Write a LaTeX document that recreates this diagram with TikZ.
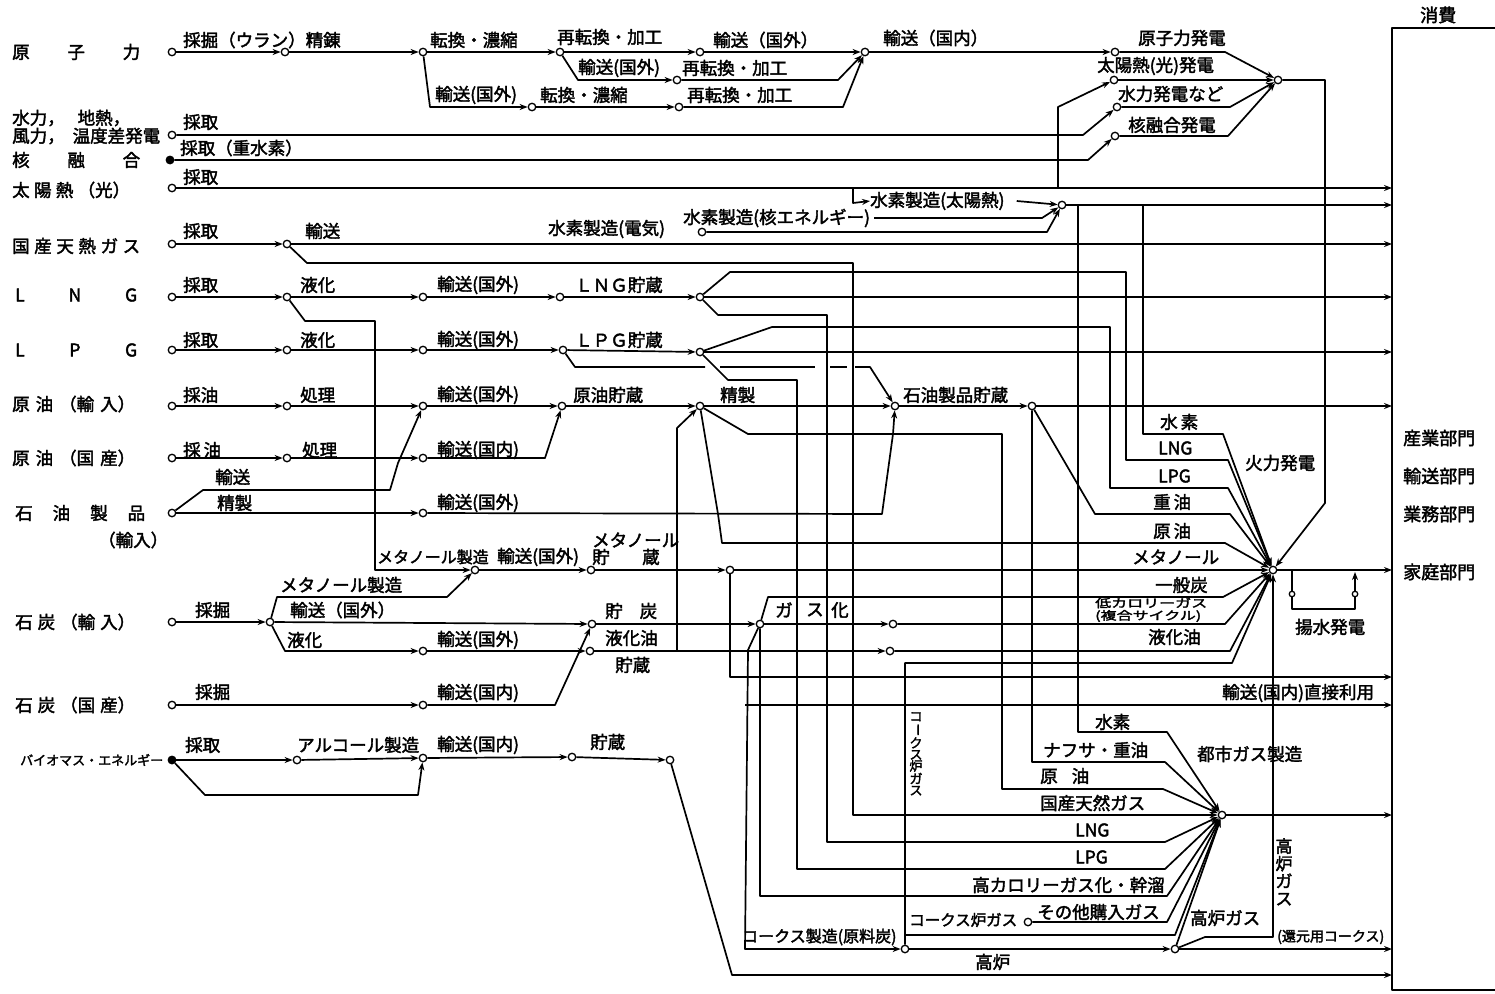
\documentclass[tikz,border=0pt]{standalone}
\usepackage{fontspec}
\setmainfont{Noto Sans CJK JP}[FakeBold=2.2]
\usetikzlibrary{arrows.meta}
\newcommand{\mylbl}[4]{\node[lb] (#1) at (#2,#3) {#4};}
\begin{document}
\begin{tikzpicture}[x=1pt,y=-1pt,
 ln/.style={line width=1.7pt, line join=round},
 ar/.style={ln, -{Stealth[length=8pt,width=6pt]}},
 nd/.style={circle, draw, fill=white, line width=1.3pt, inner sep=0pt, minimum size=7.5pt},
 fnd/.style={nd, fill=black},
 lb/.style={anchor=west, inner sep=0pt, font=\fontsize{17.5}{19}\selectfont},
 sm/.style={anchor=west, inner sep=0pt, font=\fontsize{16}{13}\selectfont},
 vt/.style={anchor=north, inner sep=0pt, align=center}]
\useasboundingbox (0,0) rectangle (1495,993);
% ---------- nodes ----------
\node[nd] (n0) at (172,52) {}; \node[nd] (n1) at (285,52) {}; \node[nd] (n2) at (423,52) {};
\node[nd] (n3) at (560,52) {}; \node[nd] (n4) at (700,52) {}; \node[nd] (n5) at (865,52) {};
\node[nd] (n6) at (1115,52) {}; \node[nd] (E) at (1278,80) {};
\node[nd] (n7) at (532,107) {}; \node[nd] (n8) at (679,107) {}; \node[nd] (n9) at (677,80) {};
\node[nd] (s1) at (1114,80) {}; \node[nd] (s2) at (1117,107) {}; \node[nd] (s3) at (1115,136) {};
\node[nd] (h0) at (172,135) {}; \node[fnd] (f0) at (170,160) {}; \node[nd] (t0) at (172,188) {};
\node[nd] (hy) at (1062,205) {}; \node[nd] (he) at (702,232) {};
\node[nd] (g0) at (172,244) {}; \node[nd] (g1) at (287,244) {};
\node[nd] (l0) at (172,297) {}; \node[nd] (l1) at (287,297) {}; \node[nd] (l2) at (423,297) {};
\node[nd] (l3) at (560,297) {}; \node[nd] (l4) at (700,297) {};
\node[nd] (p0) at (172,350) {}; \node[nd] (p1) at (287,350) {}; \node[nd] (p2) at (423,350) {};
\node[nd] (p3) at (563,350) {}; \node[nd] (p4) at (700,352) {};
\node[nd] (c0) at (172,406) {}; \node[nd] (c1) at (287,406) {}; \node[nd] (c2) at (423,406) {};
\node[nd] (c3) at (562,406) {}; \node[nd] (R) at (700,406) {}; \node[nd] (o3) at (895,406) {};
\node[nd] (o4) at (1032,406) {};
\node[nd] (d0) at (172,458) {}; \node[nd] (d1) at (287,458) {}; \node[nd] (d2) at (423,458) {};
\node[nd] (q0) at (172,513) {}; \node[nd] (q1) at (423,513) {};
\node[nd] (m1) at (475,570) {}; \node[nd] (m2) at (591,570) {}; \node[nd] (m3) at (730,570) {};
\node[nd] (P) at (1273,570) {};
\node[nd] (k0) at (172,622) {}; \node[nd] (k1) at (270,622) {}; \node[nd] (k2) at (592,624) {};
\node[nd] (k3) at (423,651) {}; \node[nd] (k4) at (590,651) {}; \node[nd] (k5) at (760,624) {};
\node[nd] (k6) at (890,651) {}; \node[nd] (k7) at (893,624) {};
\node[nd] (j0) at (172,705) {}; \node[nd] (j1) at (423,705) {};
\node[nd] (G) at (1222,815) {}; \node[nd] (K) at (905,949) {}; \node[nd] (B) at (1175,949) {};
\node[nd] (oG) at (1028,922) {};
\node[fnd] (b0) at (172,760) {}; \node[nd] (b1) at (297,760) {}; \node[nd] (b2) at (423,758) {};
\node[nd] (b3) at (572,757) {}; \node[nd] (b4) at (670,760) {};
\node[nd,minimum size=5.5pt] (pw1) at (1292,594) {}; \node[nd,minimum size=5.5pt] (pw2) at (1355,594) {};
\foreach \yy in {188,205,244,297,352,406,570,677,705,815,949,975}{\coordinate (c\yy) at (1392,\yy);}
% hydrogen label nodes
\node[lb] (HS) at (870,201) {水素製造(太陽熱)};
\node[lb] (HN) at (683,218) {水素製造(核エネルギー)};
% ---------- consumption box ----------
\draw[ln] (1495,28) -- (1392,28) -- (1392,990) -- (1495,990);
% ---------- nuclear ----------
\draw[ar] (n0) -- (n1); \draw[ar] (n1) -- (n2); \draw[ar] (n2) -- (n3);
\draw[ar] (n3) -- (n4); \draw[ar] (n4) -- (n5); \draw[ar] (n5) -- (n6);
\draw[ar] (n6) -- (1225,52) -- (E);
\draw[ar] (n2) -- (430,107) -- (n7); \draw[ar] (n7) -- (n8); \draw[ar] (n8) -- (843,107) -- (n5);
\draw[ar] (n3) -- (578,80) -- (n9); \draw[ar] (n9) -- (838,80) -- (n5);
% ---------- electricity ----------
\draw[ar] (s1) -- (E); \draw[ar] (s2) -- (1230,107) -- (E); \draw[ar] (s3) -- (1228,136) -- (E);
\draw[ar] (E) -- (1325,80) -- (1325,503) -- (P);
\draw[ar] (h0) -- (1083,135) -- (s2);
\draw[ar] (f0) -- (1088,160) -- (s3);
\draw[ar] (t0) -- (c188);
\draw[ar] (1058,188) -- (1058,107) -- (s1);
% ---------- hydrogen ----------
\draw[ar] (853,188) -- (853,203) -- (HS.west);
\draw[ar] ([xshift=12pt]HS.east) -- (hy);
\draw[ar] ([xshift=4pt]HN.east) -- (1042,218) -- (hy);
\draw[ar] (he) -- (1047,232) -- (hy);
\draw[ar] (hy) -- (c205);
\draw[ar] (1078,205) -- (1078,732) -- (1167,732) -- (G);
\draw[ar] (1143,205) -- (1143,434) -- (1223,434) -- (P);
% ---------- natural gas ----------
\draw[ar] (g0) -- (g1); \draw[ar] (g1) -- (c244);
\draw[ar] (g1) -- (307,263) -- (853,263) -- (853,815) -- (G);
% ---------- LNG ----------
\draw[ar] (l0) -- (l1); \draw[ar] (l1) -- (l2); \draw[ar] (l2) -- (l3); \draw[ar] (l3) -- (l4);
\draw[ar] (l4) -- (c297);
\draw[ar] (l4) -- (730,272) -- (1126,272) -- (1126,460) -- (1228,460) -- (P);
\draw[ar] (l4) -- (718,315) -- (827,315) -- (827,842) -- (1165,842) -- (G);
\draw[ar] (l1) -- (305,321) -- (375,321) -- (375,570) -- (m1);
% ---------- LPG ----------
\draw[ar] (p0) -- (p1); \draw[ar] (p1) -- (p2); \draw[ar] (p2) -- (p3); \draw[ar] (p3) -- (p4);
\draw[ar] (p4) -- (c352);
\draw[ar] (p4) -- (772,327) -- (1110,327) -- (1110,488) -- (1228,488) -- (P);
\draw[ar] (p4) -- (728,380) -- (797,380) -- (797,869) -- (1165,869) -- (G);
\draw[ln] (p3) -- (575,367) -- (705,367); \draw[ln] (720,367) -- (815,367); \draw[ln] (830,367) -- (847,367);
\draw[ar] (855,367) -- (870,367) -- (o3);
% ---------- crude oil ----------
\draw[ar] (c0) -- (c1); \draw[ar] (c1) -- (c2); \draw[ar] (c2) -- (c3); \draw[ar] (c3) -- (R);
\draw[ar] (R) -- (o3); \draw[ar] (o3) -- (o4); \draw[ar] (o4) -- (c406);
\draw[ar] (R) -- (748,434) -- (1002,434) -- (1002,789) -- (1163,789) -- (G);
\draw[ar] (R) -- (718,514) -- (722,543) -- (1225,543) -- (P);
\draw[ar] (o4) -- (1095,514) -- (1230,514) -- (P);
\draw[ar] (o4) -- (1032,762) -- (1165,762) -- (G);
\draw[ar] (d0) -- (d1); \draw[ar] (d1) -- (d2); \draw[ar] (d2) -- (545,458) -- (c3);
\draw[ar] (q0) -- (203,490) -- (390,490) -- (398,463) -- (c2);
\draw[ar] (q0) -- (q1);
\draw[ar] (q1) -- (882,514) -- (893,434) -- (o3);
% ---------- methanol ----------
\draw[ar] (m1) -- (m2); \draw[ar] (m2) -- (m3); \draw[ar] (m3) -- (P); \draw[ar] (P) -- (c570);
\draw[ar] (m3) -- (730,677) -- (c677);
\draw[ar] (k1) -- (277,597) -- (447,597) -- (m1);
% ---------- coal ----------
\draw[ar] (k0) -- (k1); \draw[ar] (k1) -- (k2); \draw[ar] (k1) -- (285,651) -- (k3); \draw[ar] (k3) -- (k4);
\draw[ar] (k4) -- (k6); \draw[ar] (k6) -- (1230,651) -- (P);
\draw[ar] (677,651) -- (677,428) -- (R);
\draw[ar] (k2) -- (k5); \draw[ar] (k5) -- (k7); \draw[ar] (k7) -- (1225,624) -- (P);
\draw[ar] (k5) -- (768,597) -- (1223,597) -- (P);
\draw[ar] (k5) -- (760,896) -- (1167,896) -- (G);
\draw[ar] (k5) -- (748,650) -- (745,949) -- (K);
\draw[ar] (745,705) -- (c705);
\draw[ar] (j0) -- (j1); \draw[ar] (j1) -- (555,705) -- (k2);
% ---------- coke / blast furnace ----------
\draw[ar] (K) -- (905,663) -- (1232,663) -- (P);
\draw[ar] (905,935) -- (1175,935) -- (G);
\draw[ar] (K) -- (B); \draw[ar] (B) -- (c949); \draw[ar] (B) -- (G);
\draw[ar] (B) -- (1205,937) -- (1273,937) -- (P);
\draw[ar] (oG) -- (1167,922) -- (G);
\draw[ar] (G) -- (c815);
% ---------- biomass ----------
\draw[ar] (b0) -- (b1); \draw[ar] (b1) -- (b2); \draw[ar] (b0) -- (205,795) -- (418,795) -- (b2);
\draw[ar] (b2) -- (b3); \draw[ar] (b3) -- (b4); \draw[ar] (b4) -- (732,975) -- (c975);
% ---------- pumped storage ----------
\draw[ln] (1292,570) -- (pw1); \draw[ln] (pw1) -- (1292,609) -- (1355,609) -- (pw2);
\draw[ar] (pw2) -- (1355,572);
% ---------- source labels ----------
\node[lb] (S1) at (12,52) {\makebox[128pt][s]{原\hfill 子\hfill 力}};
\node[lb] (S2a) at (12,118) {\makebox[118pt][s]{水力，\hfill 地熱，}};
\node[lb] (S2b) at (12,136) {\makebox[148pt][s]{風力，\hfill 温度差発電}};
\node[lb] (S3) at (12,160) {\makebox[128pt][s]{核\hfill 融\hfill 合}};
\node[lb] (S4) at (12,190) {\makebox[118pt][s]{太\hfill 陽\hfill 熱\hfill （光）}};
\node[lb] (S5) at (12,246) {\makebox[128pt][s]{国\hfill 産\hfill 天\hfill 熱\hfill ガ\hfill ス}};
\node[lb] (S6) at (15,295) {\makebox[122pt][s]{L\hfill N\hfill G}};
\node[lb] (S7) at (15,350) {\makebox[122pt][s]{L\hfill P\hfill G}};
\node[lb] (S8) at (12,404) {\makebox[123pt][s]{原\hfill 油\hfill （輸\hfill 入）}};
\node[lb] (S9) at (12,458) {\makebox[123pt][s]{原\hfill 油\hfill （国\hfill 産）}};
\node[lb] (S10) at (15,513) {\makebox[130pt][s]{石\hfill 油\hfill 製\hfill 品}};
\node[lb] (S10b) at (98,540) {（輸入）};
\node[lb] (S11) at (15,622) {\makebox[120pt][s]{石\hfill 炭\hfill （輸\hfill 入）}};
\node[lb] (S12) at (15,705) {\makebox[120pt][s]{石\hfill 炭\hfill （国\hfill 産）}};
\node[lb,font=\fontsize{13}{14}\selectfont] (S13) at (20,760) {バイオマス・エネルギー};
% ---------- process labels ----------
\mylbl{a1}{183}{40}{採掘（ウラン）精錬}
\mylbl{a2}{430}{40}{転換・濃縮}
\mylbl{a3}{557}{37}{再転換・加工}
\mylbl{a4}{713}{40}{輸送（国外）}
\mylbl{a5}{883}{38}{輸送（国内）}
\mylbl{a6}{578}{68}{輸送(国外)}
\mylbl{a7}{682}{68}{再転換・加工}
\mylbl{a8}{435}{95}{輸送(国外)}
\mylbl{a9}{540}{95}{転換・濃縮}
\mylbl{a10}{687}{95}{再転換・加工}
\mylbl{e1}{1138}{38}{原子力発電}
\mylbl{e2}{1097}{66}{太陽熱(光)発電}
\mylbl{e3}{1118}{94}{水力発電など}
\mylbl{e4}{1128}{125}{核融合発電}
\mylbl{r1}{183}{122}{採取}
\mylbl{r2}{180}{148}{採取（重水素）}
\mylbl{r3}{183}{177}{採取}
\mylbl{r4}{548}{229}{水素製造(電気)}
\mylbl{g2}{183}{231}{採取}
\mylbl{g3}{305}{231}{輸送}
\mylbl{l5}{183}{285}{採取}
\mylbl{l6}{300}{285}{液化}
\mylbl{l7}{437}{285}{輸送(国外)}
\mylbl{l8}{575}{285}{ＬＮＧ貯蔵}
\mylbl{p5}{183}{340}{採取}
\mylbl{p6}{300}{340}{液化}
\mylbl{p7}{437}{340}{輸送(国外)}
\mylbl{p8}{575}{340}{ＬＰＧ貯蔵}
\mylbl{c5}{183}{395}{採油}
\mylbl{c6}{300}{395}{処理}
\mylbl{c7}{437}{395}{輸送(国外)}
\mylbl{c8}{573}{395}{原油貯蔵}
\mylbl{c9}{720}{395}{精製}
\mylbl{c10}{903}{395}{石油製品貯蔵}
\mylbl{d5}{183}{450}{採\,油}
\mylbl{d6}{302}{450}{処理}
\mylbl{d7}{437}{450}{輸送(国内)}
\mylbl{q5}{215}{477}{輸送}
\mylbl{q6}{217}{503}{精製}
\mylbl{q7}{437}{503}{輸送(国外)}
\node[lb,font=\fontsize{16}{18}\selectfont] (m5) at (377,557) {メタノール製造};
\mylbl{m6}{497}{557}{輸送(国外)}
\mylbl{m7}{592}{540}{メタノール}
\mylbl{m8}{592}{557}{貯}
\mylbl{m9}{642}{557}{蔵}
\mylbl{k8}{195}{610}{採掘}
\mylbl{k9}{280}{585}{メタノール製造}
\mylbl{k10}{290}{610}{輸送（国外）}
\mylbl{k11}{287}{640}{液化}
\mylbl{k12}{437}{640}{輸送(国外)}
\mylbl{k13}{605}{611}{貯\hspace{17pt}炭}
\mylbl{k14}{605}{638}{液化油}
\mylbl{k15}{615}{665}{貯蔵}
\mylbl{k16}{775}{610}{ガ}
\mylbl{k17}{806}{610}{ス}
\mylbl{k18}{831}{610}{化}
\mylbl{j5}{195}{692}{採掘}
\mylbl{j6}{437}{693}{輸送(国内)}
\mylbl{b5}{185}{745}{採取}
\mylbl{b6}{297}{745}{アルコール製造}
\mylbl{b7}{437}{745}{輸送(国内)}
\mylbl{b8}{590}{742}{貯蔵}
% thermal inputs
\mylbl{f1}{1160}{422}{水\,素}
\mylbl{f2}{1158}{448}{LNG}
\mylbl{f3}{1158}{476}{LPG}
\mylbl{f4}{1153}{502}{重\,油}
\mylbl{f5}{1153}{531}{原\,油}
\mylbl{f6}{1132}{557}{メタノール}
\mylbl{f7}{1155}{585}{一般炭}
\node[sm] (f8) at (1095,603) {\scalebox{1}[0.72]{低カロリーガス}};
\node[sm] (f9) at (1095,616) {\scalebox{1}[0.72]{(複合サイクル)}};
\mylbl{f10}{1148}{637}{液化油}
\mylbl{f11}{1245}{463}{火力発電}
\mylbl{f12}{1295}{627}{揚水発電}
% city gas inputs
\mylbl{u1}{1095}{722}{水素}
\mylbl{u2}{1043}{750}{ナフサ・重油}
\mylbl{u3}{1040}{776}{原\hspace{14pt}油}
\mylbl{u4}{1040}{803}{国産天然ガス}
\mylbl{u5}{1075}{830}{LNG}
\mylbl{u6}{1075}{857}{LPG}
\mylbl{u7}{972}{885}{高カロリーガス化・幹溜}
\mylbl{u8}{1037}{912}{その他購入ガス}
\node[lb,font=\fontsize{15.5}{17}\selectfont] (u9) at (909,920) {コークス炉ガス};
\mylbl{u10}{1190}{918}{高炉ガス}
\mylbl{u11}{1197}{754}{都市ガス製造}
\mylbl{u12}{1222}{693}{輸送(国内)直接利用}
\node[lb,font=\fontsize{14}{15}\selectfont] (u13) at (1277,937) {(還元用コークス)};
\mylbl{u14}{975}{962}{高炉}
\node[lb,font=\fontsize{16}{18}\selectfont] (u15) at (742,937) {コークス製造(原料炭)};
\node[vt,font=\fontsize{13}{11.5}\selectfont] (u16) at (916,712) {コ\\\rotatebox[origin=c]{-90}{ー}\\ク\\ス\\炉\\ガ\\ス};
\node[vt,font=\fontsize{17}{17.5}\selectfont] (u17) at (1284,838) {高\\炉\\ガ\\ス};
% consumption
\node[lb,font=\fontsize{18}{20}\selectfont] (z0) at (1420,15) {消費};
\node[lb,font=\fontsize{18}{20}\selectfont] (z1) at (1403,438) {産業部門};
\node[lb,font=\fontsize{18}{20}\selectfont] (z2) at (1403,476) {輸送部門};
\node[lb,font=\fontsize{18}{20}\selectfont] (z3) at (1403,514) {業務部門};
\node[lb,font=\fontsize{18}{20}\selectfont] (z4) at (1403,572) {家庭部門};
\end{tikzpicture}
\end{document}
